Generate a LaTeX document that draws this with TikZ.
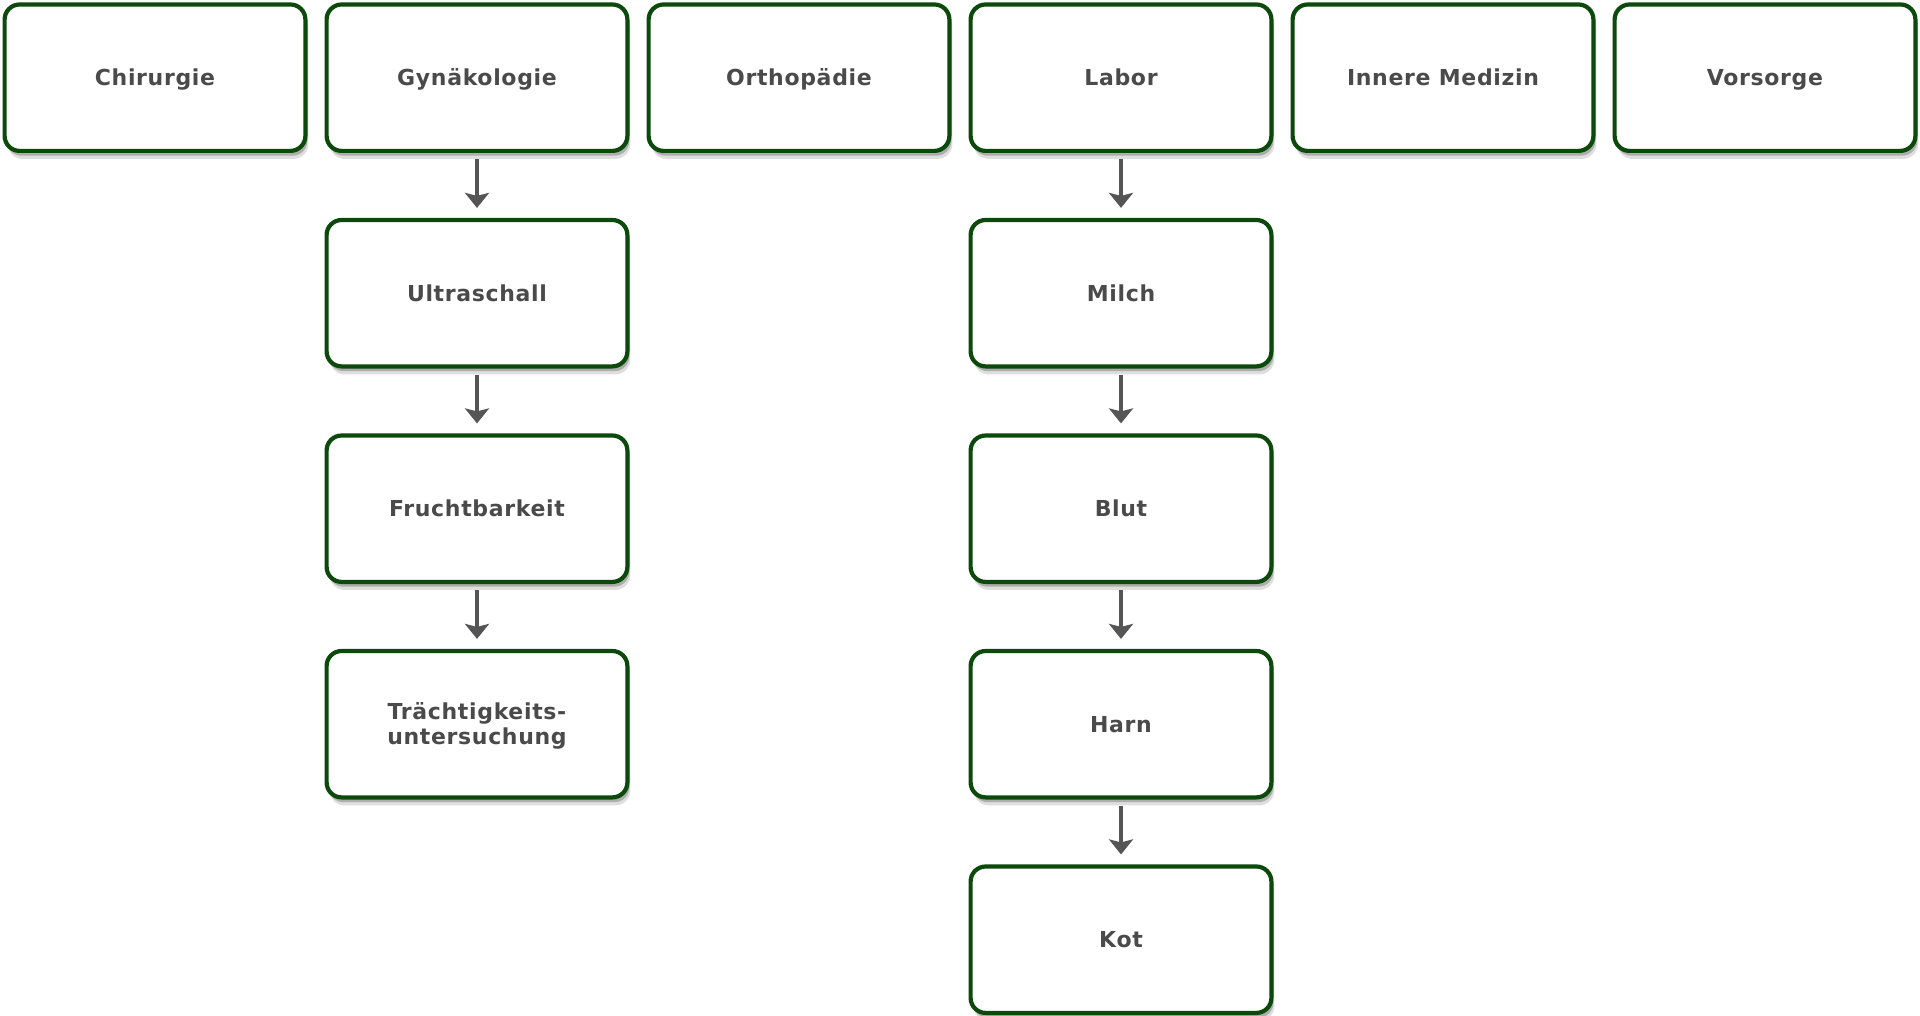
\documentclass[tikz,border=0pt]{standalone}
\usepackage{fontspec}
\setmainfont{DejaVu Sans}[LetterSpace=3]
\usepackage{tikz}
\usetikzlibrary{arrows.meta}
\usetikzlibrary{shadows}
\definecolor{BoxGreen}{RGB}{12,74,12}
\definecolor{TextGray}{RGB}{74,74,74}
\definecolor{ArrowGray}{RGB}{85,85,85}
\begin{document}
\begin{tikzpicture}[x=0.5pt,y=-0.5pt,
  deptbox/.style={draw=BoxGreen,line width=2.1pt,rounded corners=7.5pt,fill=white,
    minimum width=150.4pt,minimum height=73.2pt,align=center,
    text height=8pt,text depth=0pt,
    font=\fontsize{11}{12.5}\selectfont\bfseries,text=TextGray,
    drop shadow={shadow xshift=1.5pt,shadow yshift=-4pt,fill=black,opacity=0.13},
    drop shadow={shadow xshift=1pt,shadow yshift=-2.4pt,fill=black,opacity=0.22}},
  step arrow/.style={-{Stealth[width=12pt,length=7.5pt,inset=1.5pt]},line width=2pt,
    color=ArrowGray,shorten <=3pt,shorten >=5pt}]
\useasboundingbox (0,0) rectangle (1920,1016);
% top row
\foreach \x/\nm/\txt in {0/chir/Chirurgie,1/gyn/Gynäkologie,2/orth/Orthopädie,3/labor/Labor,4/innere/Innere Medizin,5/vors/Vorsorge}
  \node[deptbox] (\nm) at (155+322*\x,77.7) {\txt};
% Gynaekologie
\node[deptbox] (ultra) at (477,293.2) {Ultraschall};
\node[deptbox] (frucht) at (477,508.7) {Fruchtbarkeit};
\node[deptbox,text height=20.5pt] (traecht) at (477,724.2) {Trächtigkeits-\\untersuchung};
% Labor
\node[deptbox] (milch) at (1121,293.2) {Milch};
\node[deptbox] (blut) at (1121,508.7) {Blut};
\node[deptbox] (harn) at (1121,724.2) {Harn};
\node[deptbox] (kot) at (1121,939.7) {Kot};
\draw[step arrow] (gyn) -- (ultra);
\draw[step arrow] (ultra) -- (frucht);
\draw[step arrow] (frucht) -- (traecht);
\draw[step arrow] (labor) -- (milch);
\draw[step arrow] (milch) -- (blut);
\draw[step arrow] (blut) -- (harn);
\draw[step arrow] (harn) -- (kot);
\end{tikzpicture}
\end{document}
